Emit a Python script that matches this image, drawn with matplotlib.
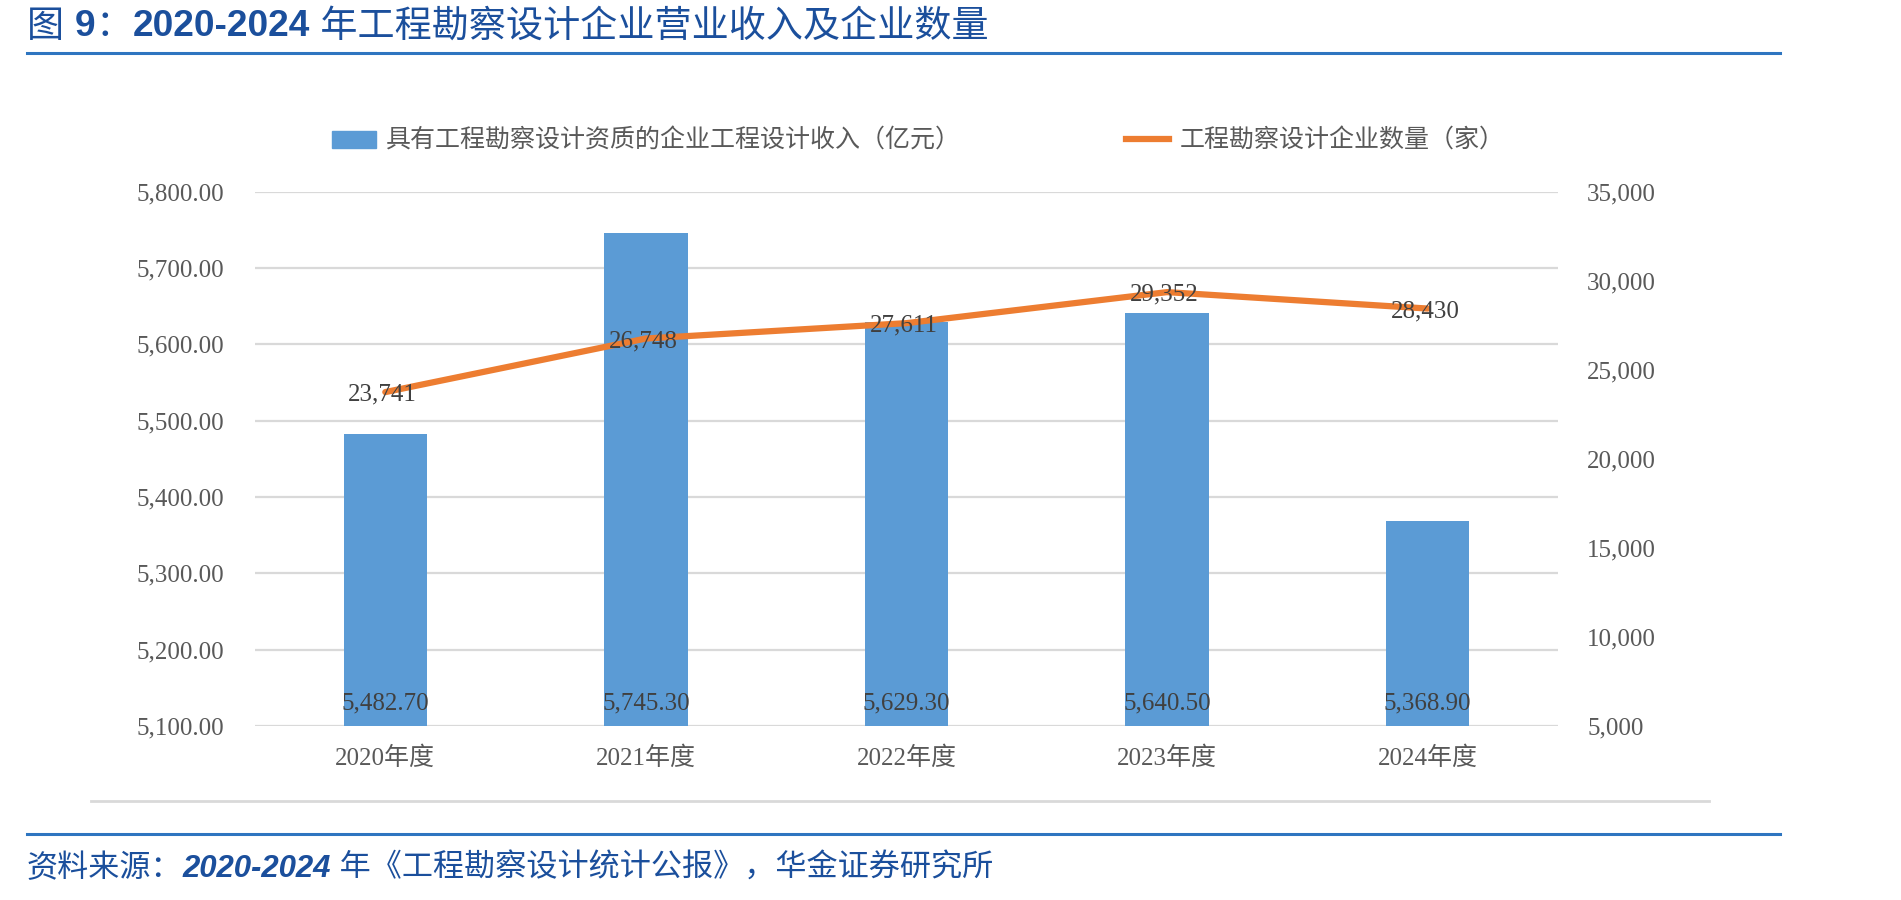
# 2020-2024 工程勘察设计企业营业收入及企业数量

import matplotlib.pyplot as plt
from matplotlib.lines import Line2D
from matplotlib.patches import Patch

years = ["2020年度", "2021年度", "2022年度", "2023年度", "2024年度"]
income = [5482.70, 5745.30, 5629.30, 5640.50, 5368.90]
firms = [23741, 26748, 27611, 29352, 28430]
left_ticks = [5100, 5200, 5300, 5400, 5500, 5600, 5700, 5800]
right_ticks = [5000, 10000, 15000, 20000, 25000, 30000, 35000]

bar_color = "#5B9BD5"
line_color = "#ED7D31"
label_gray = "#595959"
text_dark = "#404040"
blue_title = "#1B4F9C"

cjk = ["Liberation Serif", "Noto Sans CJK SC"]
W, H = 1901, 900

fig = plt.figure(figsize=(W / 100, H / 100), dpi=100)
ax = fig.add_axes([255 / W, 1 - 726 / H, (1558 - 255) / W, (726 - 191.5) / H])
ax2 = ax.twinx()

x = list(range(len(years)))
ax.bar(x, [v - 5100 for v in income], bottom=5100, width=0.32, color=bar_color, zorder=2)
ax.set_xlim(-0.5, 4.5)
ax.set_ylim(5100, 5800)
ax.set_yticks(left_ticks)
ax.set_yticklabels(["{:,.2f}".format(t) for t in left_ticks])
ax.set_xticks(x)
ax.set_xticklabels(years)
ax.grid(axis="y", color="#D9D9D9", linewidth=1.6, zorder=0)
ax.set_axisbelow(True)
for s in ax.spines.values():
    s.set_visible(False)
ax.tick_params(axis="both", length=0, colors=label_gray, labelsize=18)
ax.tick_params(axis="y", pad=22)
ax.tick_params(axis="x", pad=15)
for lab in ax.get_xticklabels() + ax.get_yticklabels():
    lab.set_family(cjk)

for i, v in enumerate(income):
    ax.annotate("{:,.2f}".format(v), (i, 5100), xytext=(0, 16), textcoords="offset points",
                ha="center", va="center", fontsize=18, color=text_dark, family=cjk, zorder=5)

ax2.plot(x, firms, color=line_color, linewidth=4.5, zorder=3, solid_capstyle="round")
ax2.set_ylim(5000, 35000)
ax2.set_yticks(right_ticks)
ax2.set_yticklabels(["{:,}".format(t) for t in right_ticks])
for s in ax2.spines.values():
    s.set_visible(False)
ax2.tick_params(axis="y", length=0, colors=label_gray, labelsize=18, pad=21)
for lab in ax2.get_yticklabels():
    lab.set_family(cjk)
for i, v in enumerate(firms):
    ax2.annotate("{:,}".format(v), (i, v), xytext=(-2, -2), textcoords="offset points",
                 ha="center", va="center", fontsize=18, color=text_dark, family=cjk, zorder=5)

handles = [Patch(color=bar_color), Line2D([0], [0], color=line_color, linewidth=4.5)]
leg = fig.legend(handles, ["具有工程勘察设计资质的企业工程设计收入（亿元）", "工程勘察设计企业数量（家）"],
                 loc="center", bbox_to_anchor=(918 / W, 1 - 141 / H), ncol=2, frameon=False,
                 prop={"family": cjk, "size": 18}, handlelength=1.75, handletextpad=0.4,
                 columnspacing=6.6, labelcolor=label_gray)


def draw_pieces(pieces, x0, y0, size, color):
    fig.canvas.draw()
    r = fig.canvas.get_renderer()
    xp = x0
    for s, fam, weight, style in pieces:
        t = fig.text(xp / W, 1 - y0 / H, s, fontsize=size, color=color, family=fam,
                     weight=weight, style=style, va="center", ha="left")
        xp = t.get_window_extent(r).x1


sans = ["Liberation Sans", "Noto Sans CJK SC"]
draw_pieces([("图 ", sans, "normal", "normal"), ("9", sans, "bold", "normal"),
             ("：", sans, "normal", "normal"), ("2020-2024", sans, "bold", "normal"),
             (" 年工程勘察设计企业营业收入及企业数量", sans, "normal", "normal")],
            27, 27, 26.7, blue_title)
draw_pieces([("资料来源：", sans, "normal", "italic"), ("2020-2024", sans, "bold", "italic"),
             (" 年《工程勘察设计统计公报》，华金证券研究所", sans, "normal", "italic")],
            27, 869, 22.4, blue_title)

fig.add_artist(Line2D([27 / W, 1780 / W], [1 - 53 / H, 1 - 53 / H], color="#2E75C0", linewidth=2.2))
fig.add_artist(Line2D([27 / W, 1780 / W], [1 - 834 / H, 1 - 834 / H], color="#2E75C0", linewidth=2.2))
fig.add_artist(Line2D([91 / W, 1709 / W], [1 - 801 / H, 1 - 801 / H], color="#D9D9D9", linewidth=2))

fig.savefig("out.png", dpi=100)
